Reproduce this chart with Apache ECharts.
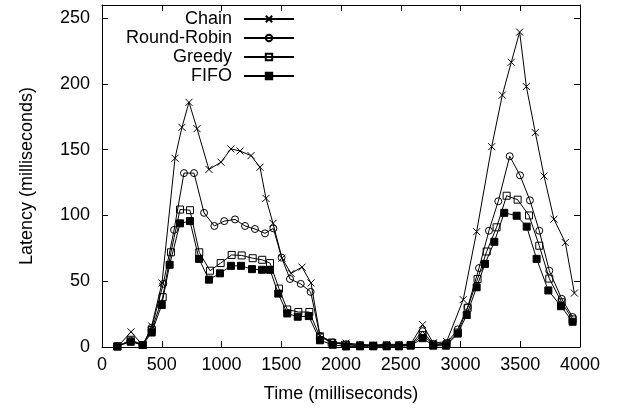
<!DOCTYPE html>
<html>
<head>
<meta charset="utf-8">
<script src="https://cdn.jsdelivr.net/npm/echarts@6/dist/echarts.min.js"></script>
<style>
html,body{margin:0;padding:0;background:#fff;}
#chart{width:617px;height:408px;}
</style>
</head>
<body>
<div id="chart"></div>
<script>
// Series names
const seriesNames = ['Chain', 'Round-Robin', 'Greedy', 'FIFO'];

// Chain (time ms, latency ms)
const chainX = [134, 243, 343, 416, 502, 611, 669, 728, 795, 895, 996, 1079, 1155, 1247, 1322, 1372, 1431, 1506, 1582, 1674, 1749, 1824, 1931, 2042, 2159, 2270, 2382, 2485, 2583, 2683, 2772, 2884, 3023, 3135, 3261, 3350, 3425, 3495, 3551, 3626, 3699, 3782, 3877, 3953];
const chainY = [0.5, 11.5, 1, 16, 48.7, 143.5, 167, 186, 166, 135, 140.5, 150.6, 149, 145.5, 136.7, 113, 94, 67.5, 56, 60.7, 48.7, 8.7, 3.4, 3, 2, 1.5, 2, 2, 2, 17, 3, 4.1, 36, 87.7, 152.3, 191.5, 216.5, 239.4, 198, 163, 130, 97.2, 79.4, 41];

// Round-Robin
const rrX = [128, 240, 340, 416, 513, 603, 686, 770, 854, 940, 1023, 1113, 1197, 1280, 1364, 1434, 1503, 1573, 1663, 1746, 1824, 1931, 2042, 2159, 2270, 2382, 2485, 2583, 2683, 2772, 2884, 2977, 3060, 3155, 3238, 3316, 3412, 3498, 3581, 3659, 3743, 3847, 3938];
const rrY = [0.5, 4.7, 1.5, 14.7, 48, 89, 132.2, 132.2, 102, 92, 95.7, 97, 92, 89.7, 86.4, 90.2, 68, 51.7, 48, 41.9, 8.5, 3.4, 2, 1.5, 1, 1.5, 1.5, 1.5, 12, 2, 3, 13.4, 30.3, 60, 88.4, 110.8, 145, 130.5, 111.5, 88.4, 58, 36.6, 22.8];

// Greedy
const greedyX = [128, 240, 340, 416, 508, 577, 653, 736, 814, 904, 993, 1085, 1169, 1261, 1341, 1406, 1481, 1550, 1643, 1735, 1824, 1922, 2042, 2159, 2270, 2382, 2485, 2583, 2683, 2772, 2884, 2977, 3060, 3143, 3219, 3302, 3386, 3478, 3573, 3659, 3743, 3847, 3938];
const greedyY = [0.3, 5.5, 1.5, 13, 37.9, 72, 104.5, 104, 72, 58, 63.8, 70, 69.6, 67.5, 66.3, 63.8, 44.4, 28.5, 26.6, 26.6, 7.7, 3.4, 1.7, 1, 1, 1, 1, 1.5, 9, 2, 2, 11, 29.8, 51.7, 72.6, 91, 115, 112, 100, 77, 52, 34, 21];

// FIFO
const fifoX = [128, 240, 340, 416, 500, 566, 653, 736, 812, 895, 987, 1079, 1163, 1255, 1339, 1406, 1475, 1550, 1638, 1730, 1824, 1931, 2042, 2159, 2270, 2382, 2485, 2583, 2683, 2772, 2879, 2977, 3052, 3135, 3205, 3283, 3366, 3470, 3554, 3637, 3735, 3841, 3938];
const fifoY = [0.5, 4, 1.5, 11, 32, 62.5, 94, 95.7, 67, 51.2, 56, 61.7, 61.7, 59.2, 58.7, 58.7, 40.6, 25.5, 23, 23.5, 5.1, 1.7, 0.4, 0.5, 0.5, 0.5, 0.5, 1, 6.7, 1, 1, 10.2, 24.3, 45.4, 63.2, 80, 102, 99.8, 91.5, 67, 43, 31, 19.2];

// Axis ticks
const xTicks = [0, 500, 1000, 1500, 2000, 2500, 3000, 3500, 4000];
const yTicks = [0, 50, 100, 150, 200, 250];

const FONT = "'Liberation Sans', Arial, Helvetica, sans-serif";
function zip(xs, ys) { return xs.map((x, i) => [x, ys[i]]); }

const chart = echarts.init(document.getElementById('chart'), null, {renderer: 'canvas'});

const axisLineStyle = {color: '#000', width: 1};
const baseX = {
  type: 'value', min: xTicks[0], max: xTicks[xTicks.length - 1], interval: 500,
  splitLine: {show: false},
  axisLine: {show: true, onZero: false, lineStyle: axisLineStyle},
  axisTick: {show: true, inside: true, length: 6, lineStyle: axisLineStyle}
};
const baseY = {
  type: 'value', min: yTicks[0], max: 260, interval: 50,
  splitLine: {show: false},
  axisLine: {show: true, onZero: false, lineStyle: axisLineStyle},
  axisTick: {show: true, inside: true, length: 6, lineStyle: axisLineStyle}
};

function mkSeries(name, xs, ys, symbol, size, fill) {
  return {
    name: name, type: 'line', data: zip(xs, ys),
    symbol: symbol, symbolSize: size, showAllSymbol: true,
    lineStyle: {color: '#000', width: 1},
    itemStyle: {color: fill, borderColor: '#000', borderWidth: 1},
    emphasis: {disabled: true},
    animation: false
  };
}

const option = {
  backgroundColor: '#fff',
  animation: false,
  textStyle: {fontFamily: FONT},
  grid: {left: 102, right: 37, top: 5, bottom: 58.5, containLabel: false},
  legend: {
    orient: 'vertical', align: 'right', right: 322, top: 10, padding: 0,
    itemWidth: 50, itemHeight: 8, itemGap: 1,
    textStyle: {fontFamily: FONT, fontSize: 18, color: '#000', lineHeight: 18, padding: [0, 7, 0, 0]},
    data: seriesNames
  },
  xAxis: [
    Object.assign({}, baseX, {
      position: 'bottom',
      axisLabel: {show: true, fontSize: 18, color: '#000', fontFamily: FONT, margin: 9,
        formatter: v => (xTicks.indexOf(v) >= 0 ? String(v) : '')},
      name: 'Time (milliseconds)', nameLocation: 'middle', nameGap: 38,
      nameTextStyle: {fontSize: 18, color: '#000', fontFamily: FONT}
    }),
    Object.assign({}, baseX, {position: 'top', axisLabel: {show: false}})
  ],
  yAxis: [
    Object.assign({}, baseY, {
      position: 'left',
      axisLabel: {show: true, fontSize: 18, color: '#000', fontFamily: FONT, margin: 12,
        formatter: v => (yTicks.indexOf(v) >= 0 ? String(v) : '')},
      name: 'Latency (milliseconds)', nameLocation: 'middle', nameGap: 66,
      nameTextStyle: {fontSize: 18, color: '#000', fontFamily: FONT}
    }),
    Object.assign({}, baseY, {position: 'right', axisLabel: {show: false}})
  ],
  series: [
    mkSeries(seriesNames[0], chainX, chainY, 'path://M0,0L10,10M10,0L0,10', 7, 'rgba(0,0,0,0)'),
    mkSeries(seriesNames[1], rrX, rrY, 'circle', 7, 'rgba(0,0,0,0)'),
    mkSeries(seriesNames[2], greedyX, greedyY, 'rect', 7, 'rgba(0,0,0,0)'),
    mkSeries(seriesNames[3], fifoX, fifoY, 'rect', 7, '#000')
  ]
};
chart.setOption(option);
</script>
</body>
</html>
